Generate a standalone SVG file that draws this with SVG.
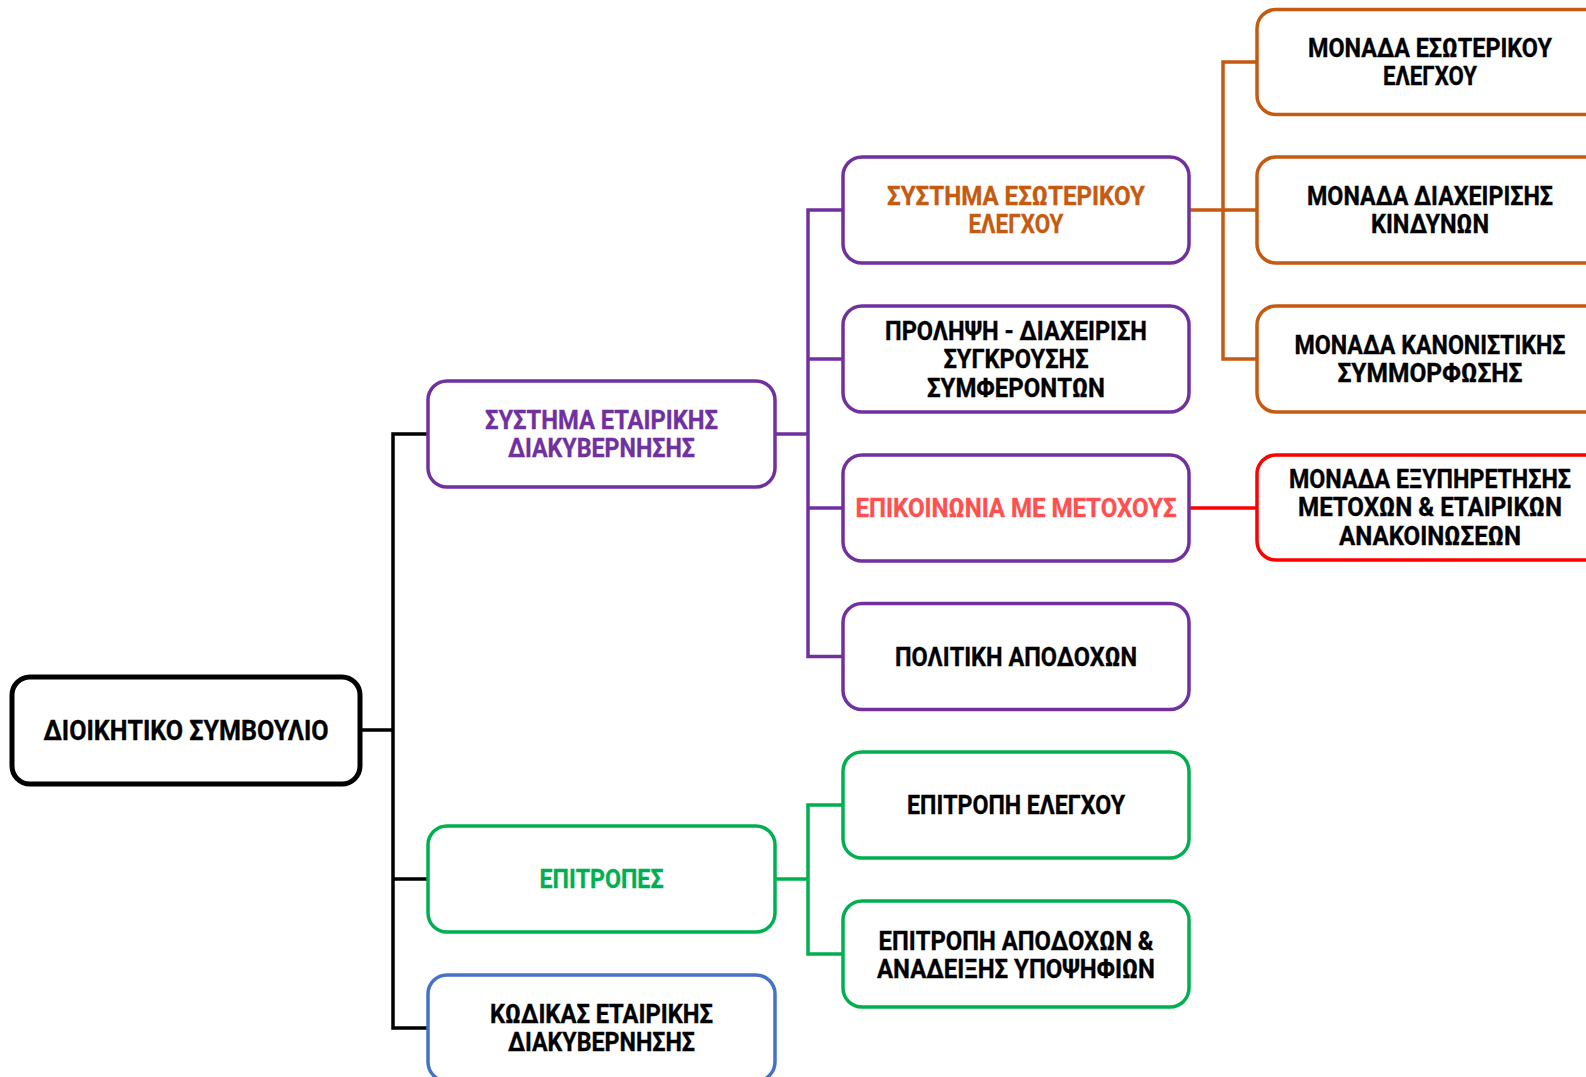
<svg xmlns="http://www.w3.org/2000/svg" width="1586" height="1077" viewBox="0 0 1586 1077">
<style>
rect{fill:#fff;stroke-width:3.5}
.root{stroke:#000;stroke-width:5}
.pu{stroke:#7030A0}.or{stroke:#C55A11}.gr{stroke:#00B050}.bl{stroke:#4472C4}.rd{stroke:#FF0000}
text{font-family:Roboto,"Liberation Sans",sans-serif;font-weight:bold;font-size:26px;text-anchor:middle;fill:#000;stroke:#000;stroke-width:0.35}
.tpu{fill:#7030A0;stroke:#7030A0}.tor{fill:#C55A11;stroke:#C55A11}.tgr{fill:#00B050;stroke:#00B050}.trd{fill:#FF5050;stroke:#FF5050}
.c{fill:none;stroke-width:3.5}
</style>
<rect width="1586" height="1077" fill="#fff" stroke="none"/>
<g id="connectors">
<path class="c" stroke="#000" stroke-width="4" d="M360,730 H393 M428,434 H393 V1028 H428 M393,879 H428"/>
<path class="c" stroke="#7030A0" d="M775,434 H808 M843,210 H808 V656.5 H843 M808,359 H843 M808,508 H843"/>
<path class="c" stroke="#00B050" d="M775,879 H808 M843,805 H808 V954 H843"/>
<path class="c" stroke="#C55A11" d="M1189,210 H1257 M1257,62 H1223 V359 H1257"/>
<path class="c" stroke="#FF0000" d="M1189,508 H1257"/>
</g>
<g id="n-root">
<rect class="root" x="12" y="677" width="348" height="107" rx="18"/>
<text x="186" y="740" style="font-size:27px" textLength="285" lengthAdjust="spacingAndGlyphs">ΔΙΟΙΚΗΤΙΚΟ ΣΥΜΒΟΥΛΙΟ</text>
</g>
<g id="n-sed">
<rect class="pu" x="428" y="381" width="347" height="106" rx="19"/>
<text class="tpu" x="601.5" y="428.5" textLength="233" lengthAdjust="spacingAndGlyphs">ΣΥΣΤΗΜΑ ΕΤΑΙΡΙΚΗΣ</text>
<text class="tpu" x="601.5" y="457" textLength="187" lengthAdjust="spacingAndGlyphs">ΔΙΑΚΥΒΕΡΝΗΣΗΣ</text>
</g>
<g id="n-epitropes">
<rect class="gr" x="428" y="826" width="347" height="106" rx="19"/>
<text class="tgr" x="601.5" y="888" textLength="124" lengthAdjust="spacingAndGlyphs">ΕΠΙΤΡΟΠΕΣ</text>
</g>
<g id="n-kodikas">
<rect class="bl" x="428" y="975" width="347" height="106" rx="19"/>
<text x="601.5" y="1022.5" textLength="223" lengthAdjust="spacingAndGlyphs">ΚΩΔΙΚΑΣ ΕΤΑΙΡΙΚΗΣ</text>
<text x="601.5" y="1051" textLength="187" lengthAdjust="spacingAndGlyphs">ΔΙΑΚΥΒΕΡΝΗΣΗΣ</text>
</g>
<g id="n-see">
<rect class="pu" x="843" y="157" width="346" height="106" rx="19"/>
<text class="tor" x="1016" y="204.5" textLength="258" lengthAdjust="spacingAndGlyphs">ΣΥΣΤΗΜΑ ΕΣΩΤΕΡΙΚΟΥ</text>
<text class="tor" x="1016" y="233" textLength="95" lengthAdjust="spacingAndGlyphs">ΕΛΕΓΧΟΥ</text>
</g>
<g id="n-prolipsi">
<rect class="pu" x="843" y="306" width="346" height="106" rx="19"/>
<text x="1016" y="339.5" textLength="262" lengthAdjust="spacingAndGlyphs">ΠΡΟΛΗΨΗ - ΔΙΑΧΕΙΡΙΣΗ</text>
<text x="1016" y="368" textLength="145" lengthAdjust="spacingAndGlyphs">ΣΥΓΚΡΟΥΣΗΣ</text>
<text x="1016" y="396.5" textLength="178" lengthAdjust="spacingAndGlyphs">ΣΥΜΦΕΡΟΝΤΩΝ</text>
</g>
<g id="n-epikoinonia">
<rect class="pu" x="843" y="455" width="346" height="106" rx="19"/>
<text class="trd" x="1016" y="517" textLength="321" lengthAdjust="spacingAndGlyphs">ΕΠΙΚΟΙΝΩΝΙΑ ΜΕ ΜΕΤΟΧΟΥΣ</text>
</g>
<g id="n-politiki">
<rect class="pu" x="843" y="603.5" width="346" height="106" rx="19"/>
<text x="1016" y="665.5" textLength="242" lengthAdjust="spacingAndGlyphs">ΠΟΛΙΤΙΚΗ ΑΠΟΔΟΧΩΝ</text>
</g>
<g id="n-ep-elegxou">
<rect class="gr" x="843" y="752" width="346" height="106" rx="19"/>
<text x="1016" y="814" textLength="218" lengthAdjust="spacingAndGlyphs">ΕΠΙΤΡΟΠΗ ΕΛΕΓΧΟΥ</text>
</g>
<g id="n-ep-apodoxon">
<rect class="gr" x="843" y="901" width="346" height="106" rx="19"/>
<text x="1016" y="949.5" textLength="275" lengthAdjust="spacingAndGlyphs">ΕΠΙΤΡΟΠΗ ΑΠΟΔΟΧΩΝ &amp;</text>
<text x="1016" y="978" textLength="278" lengthAdjust="spacingAndGlyphs">ΑΝΑΔΕΙΞΗΣ ΥΠΟΨΗΦΙΩΝ</text>
</g>
<g id="n-monada-esot">
<rect class="or" x="1257" y="9.5" width="360" height="105" rx="19"/>
<text x="1430" y="56.5" textLength="244" lengthAdjust="spacingAndGlyphs">ΜΟΝΑΔΑ ΕΣΩΤΕΡΙΚΟΥ</text>
<text x="1430" y="85" textLength="94" lengthAdjust="spacingAndGlyphs">ΕΛΕΓΧΟΥ</text>
</g>
<g id="n-monada-kind">
<rect class="or" x="1257" y="157" width="360" height="106" rx="19"/>
<text x="1430" y="204.5" textLength="246" lengthAdjust="spacingAndGlyphs">ΜΟΝΑΔΑ ΔΙΑΧΕΙΡΙΣΗΣ</text>
<text x="1430" y="233" textLength="118" lengthAdjust="spacingAndGlyphs">ΚΙΝΔΥΝΩΝ</text>
</g>
<g id="n-monada-kan">
<rect class="or" x="1257" y="306" width="360" height="106" rx="19"/>
<text x="1430" y="353.5" textLength="271" lengthAdjust="spacingAndGlyphs">ΜΟΝΑΔΑ ΚΑΝΟΝΙΣΤΙΚΗΣ</text>
<text x="1430" y="382" textLength="185" lengthAdjust="spacingAndGlyphs">ΣΥΜΜΟΡΦΩΣΗΣ</text>
</g>
<g id="n-monada-exyp">
<rect class="rd" x="1257" y="455" width="360" height="105" rx="19"/>
<text x="1430" y="487.5" textLength="282" lengthAdjust="spacingAndGlyphs">ΜΟΝΑΔΑ ΕΞΥΠΗΡΕΤΗΣΗΣ</text>
<text x="1430" y="516" textLength="264" lengthAdjust="spacingAndGlyphs">ΜΕΤΟΧΩΝ &amp; ΕΤΑΙΡΙΚΩΝ</text>
<text x="1430" y="544.5" textLength="182" lengthAdjust="spacingAndGlyphs">ΑΝΑΚΟΙΝΩΣΕΩΝ</text>
</g>
</svg>
